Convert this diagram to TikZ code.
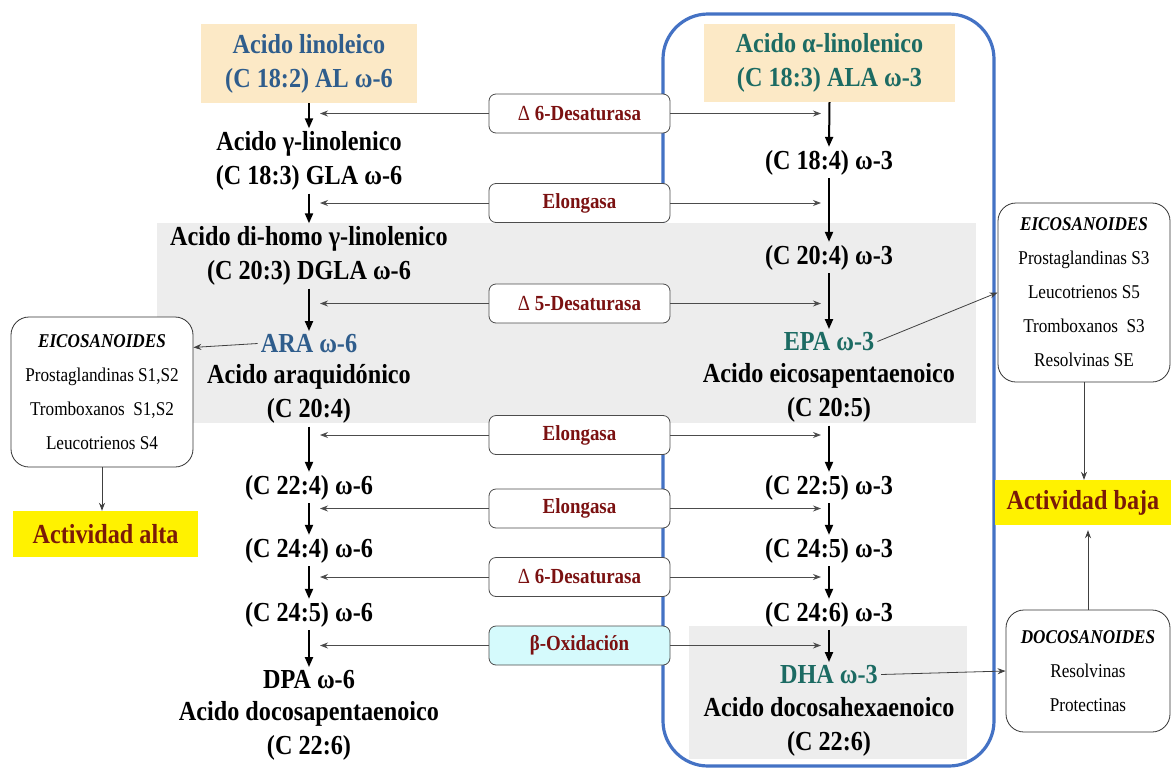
\documentclass[tikz,border=0pt]{standalone}
\usepackage{fontspec}
\setmainfont{Liberation Serif}[FakeStretch=0.88]
\usetikzlibrary{arrows.meta}
\definecolor{peach}{HTML}{FCE9C6}
\definecolor{regiongray}{HTML}{EDEDED}
\definecolor{frameblue}{HTML}{4472C4}
\definecolor{acidblue}{HTML}{2F5D8C}
\definecolor{acidteal}{HTML}{1C6B63}
\definecolor{enzred}{HTML}{7B1111}
\definecolor{oxcyan}{HTML}{D5FAFC}
\definecolor{actyellow}{HTML}{FFF200}
\definecolor{actred}{HTML}{7A1A08}
\newcommand{\acidfont}{\fontsize{27.5}{34}\selectfont\bfseries}
\newcommand{\enzfont}{\fontsize{21.5}{26}\selectfont\bfseries}
\newcommand{\sidefont}{\fontsize{19.5}{34}\selectfont}
\tikzset{
    acid/.style={font=\acidfont, align=center, inner sep=3pt, yshift=-2.5pt},
    enzbox/.style={draw=black!70, line width=0.8pt, rounded corners=7pt, fill=white,
        minimum width=181pt, minimum height=39pt, font=\enzfont, text=enzred},
    sidebox/.style={draw=black!80, line width=0.8pt, rounded corners=18pt, fill=white,
        font=\sidefont, align=center},
    actbox/.style={fill=actyellow, font=\acidfont, text=actred},
    flow/.style={line width=2pt, -{Triangle[length=10pt,width=8pt]}},
    enzarrow/.style={draw=black!70, line width=0.9pt, -{Stealth[length=8pt,width=6pt]}},
    sidearrow/.style={draw=black!75, line width=0.8pt, -{Stealth[length=8pt,width=6pt]}}
}
\begin{document}
\begin{tikzpicture}[x=1pt,y=-1pt]
    \useasboundingbox (0,0) rectangle (1171,769);
    \draw [line width=3.2pt, frameblue, rounded corners=45pt] (663,14) rectangle (994,766);
    \fill [regiongray] (157,223) rectangle (976,423);
    \fill [regiongray] (689,626) rectangle (967,759);
    \coordinate (lcol) at (320,0);
    \coordinate (rcol) at (821,0);

    \node [acid, fill=peach, text=acidblue, minimum width=216pt, minimum height=79pt] (al) at (309,61)
        {Acido linoleico\\(C 18:2) AL ω-6};
    \node [acid] (gla) at (309,158.5) {Acido γ-linolenico\\(C 18:3) GLA ω-6};
    \node [acid] (dgla) at (309,253.5) {Acido di-homo γ-linolenico\\(C 20:3) DGLA ω-6};
    \node [acid, text=acidblue] (ara) at (309,341) {ARA ω-6};
    \node [acid] (aran) at (309,391.5) {Acido araquidónico\\(C 20:4)};
    \node [acid] (c224) at (309,485) {(C 22:4) ω-6};
    \node [acid] (c244) at (309,548) {(C 24:4) ω-6};
    \node [acid] (c245l) at (309,612) {(C 24:5) ω-6};
    \node [acid] (dpa) at (309,677) {DPA ω-6};
    \node [acid] (dpan) at (309,728.5) {Acido docosapentaenoico\\(C 22:6)};

    \node [acid, fill=peach, text=acidteal, minimum width=251pt, minimum height=78pt] (ala) at (829.5,60.5)
        {Acido α-linolenico\\(C 18:3) ALA ω-3};
    \node [acid] (c184) at (829,160) {(C 18:4) ω-3};
    \node [acid] (c204) at (829,255) {(C 20:4) ω-3};
    \node [acid, text=acidteal] (epa) at (829,339) {EPA ω-3};
    \node [acid] (epan) at (829,390.5) {Acido eicosapentaenoico\\(C 20:5)};
    \node [acid] (c225) at (829,485) {(C 22:5) ω-3};
    \node [acid] (c245r) at (829,548) {(C 24:5) ω-3};
    \node [acid] (c246) at (829,612) {(C 24:6) ω-3};
    \node [acid, text=acidteal] (dha) at (829,672) {DHA ω-3};
    \node [acid] (dhan) at (829,724) {Acido docosahexaenoico\\(C 22:6)};

    \node [enzbox] (e1) at (579.5,113.5) {{\mdseries Δ} 6-Desaturasa};
    \node [enzbox] (e2) at (579.5,203) {Elongasa};
    \node [enzbox] (e3) at (579.5,303.5) {{\mdseries Δ} 5-Desaturasa};
    \node [enzbox] (e4) at (579.5,435) {Elongasa};
    \node [enzbox] (e5) at (579.5,508.5) {Elongasa};
    \node [enzbox] (e6) at (579.5,577) {{\mdseries Δ} 6-Desaturasa};
    \node [enzbox, fill=oxcyan] (e7) at (579.5,645.5) {β-Oxidación};

    \node [sidebox, minimum width=182pt, minimum height=150pt] (eicl) at (102,392)
        {\textbf{\textit{EICOSANOIDES}}\\Prostaglandinas S1,S2\\Tromboxanos\ \ S1,S2\\Leucotrienos S4};
    \node [sidebox, minimum width=172pt, minimum height=179pt] (eicr) at (1084,292.5)
        {\textbf{\textit{EICOSANOIDES}}\\Prostaglandinas S3\\Leucotrienos S5\\Tromboxanos\ \ S3\\Resolvinas SE};
    \node [sidebox, minimum width=164pt, minimum height=122pt] (doco) at (1088,671)
        {\textbf{\textit{DOCOSANOIDES}}\\Resolvinas\\Protectinas};
    \node [actbox, minimum width=185pt, minimum height=46pt] (alta) at (105.5,534) {Actividad alta};
    \node [actbox, minimum width=176pt, minimum height=45pt] (baja) at (1083,502.5) {Actividad baja};

    \draw [flow] (al.south) -- (gla.north);
    \draw [flow] (gla.south) -- (dgla.north);
    \draw [flow] (dgla.south) -- (ara.north);
    \draw [flow] (aran.south) -- (c224.north);
    \draw [flow] (c224.south) -- (c244.north);
    \draw [flow] (c244.south) -- (c245l.north);
    \draw [flow] (c245l.south) -- (dpa.north);
    \draw [flow] (ala.south) -- (c184.north);
    \draw [flow] (c184.south) -- (c204.north);
    \draw [flow] (c204.south) -- (epa.north);
    \draw [flow] (epan.south) -- (c225.north);
    \draw [flow] (c225.south) -- (c245r.north);
    \draw [flow] (c245r.south) -- (c246.north);
    \draw [flow] (c246.south) -- (dha.north);

    \foreach \e in {e1,e2,e3,e4,e5,e6,e7} {
        \draw [enzarrow] (\e.west) -- (\e.west -| lcol);
        \draw [enzarrow] (\e.east) -- (\e.east -| rcol);
    }

    \draw [sidearrow] (ara.west) -- (eicl.26);
    \draw [sidearrow] (epa.east) -- (eicr.west);
    \draw [sidearrow] (dha.east) -- (doco.west);
    \draw [sidearrow] (eicl.south) -- (eicl.south |- alta.north);
    \draw [sidearrow] (eicr.south) -- (eicr.south |- baja.north);
    \draw [sidearrow, shorten >=5pt] (doco.north) -- (doco.north |- baja.south);
\end{tikzpicture}
\end{document}
